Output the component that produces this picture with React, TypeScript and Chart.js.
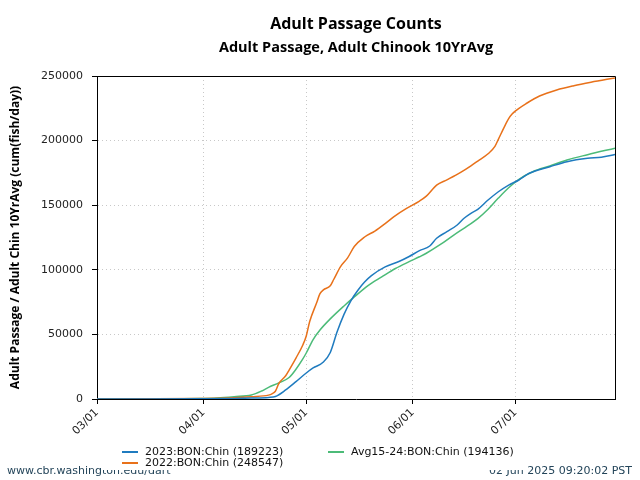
import React, { useEffect, useRef } from "react";
import { Chart, registerables } from "chart.js";

Chart.register(...registerables);

const TITLE = "Adult Passage Counts";
const SUBTITLE = "Adult Passage, Adult Chinook 10YrAvg";
const Y_TITLE = "Adult Passage / Adult Chin 10YrAvg (cum(fish/day))";
const FOOTER_LEFT = "www.cbr.washington.edu/dart";
const FOOTER_RIGHT = "02 Jun 2025 09:20:02 PST";

// x axis: days since 03/01
const X_TICK_DAYS = [0, 31, 61, 92, 122];
const X_TICK_LABELS = ["03/01", "04/01", "05/01", "06/01", "07/01"];
const X_MAX_DAY = 151;
const Y_MAX = 250000;
const Y_STEP = 50000;

const SERIES_LABELS = [
  "2023:BON:Chin (189223)",
  "2022:BON:Chin (248547)",
  "Avg15-24:BON:Chin (194136)",
];
const SERIES_COLORS = ["#1f7bbf", "#e8711a", "#4cbb78"];

const DAYS_2023 = [0, 15, 30, 40, 45, 50, 52, 55, 58, 61, 63, 66, 68, 70, 72, 74, 76, 78, 80, 84, 88, 91, 94, 97, 99, 102, 105, 107, 109, 111, 114, 117, 120, 123, 126, 132, 137, 143, 147, 151];
const VALUES_2023 = [0, 50, 200, 400, 700, 1200, 1900, 7000, 13400, 20100, 24000, 28600, 36000, 52000, 65500, 76000, 84000, 90500, 95500, 102200, 106400, 110300, 114800, 118400, 124400, 129500, 134700, 139900, 143700, 146800, 154000, 160400, 165600, 169500, 174700, 179800, 183700, 186300, 187100, 189223];

const DAYS_2022 = [0, 15, 30, 40, 45, 50, 51, 52, 53, 55, 56, 58, 60, 61, 62, 64, 65, 66, 68, 69, 71, 73, 75, 78, 81, 84, 87, 90, 94, 96, 99, 102, 106, 109, 111, 114, 116, 117, 119, 120, 121, 122, 123, 125, 129, 134, 139, 144, 151];
const VALUES_2022 = [0, 100, 400, 1000, 1800, 3000, 4000, 6000, 12000, 18000, 22400, 31700, 41800, 48800, 60000, 74300, 81500, 84500, 87700, 92500, 102500, 109000, 118000, 125400, 130000, 135800, 142000, 147200, 153200, 157000, 165500, 169600, 175400, 180500, 184200, 189800, 195500, 201000, 212000, 217000, 220500, 223000, 225000, 228500, 234500, 239200, 242500, 245200, 248547];

const DAYS_AVG = [0, 15, 30, 35, 40, 45, 48, 50, 53, 56, 58, 60, 61, 63, 65, 68, 72, 75, 79, 83, 87, 91, 94, 96, 100, 104, 108, 111, 114, 117, 120, 123, 127, 132, 137, 143, 151];
const VALUES_AVG = [0, 100, 400, 800, 1800, 3100, 6200, 9000, 12500, 16600, 23000, 31000, 35600, 46000, 53400, 62000, 72000, 79000, 87800, 94500, 101000, 106300, 110100, 112800, 119400, 126900, 134000, 139600, 146800, 155500, 163500, 170000, 175900, 180400, 185000, 189100, 194136];

const SERIES_DAYS = [DAYS_2023, DAYS_2022, DAYS_AVG];
const SERIES_VALUES = [VALUES_2023, VALUES_2022, VALUES_AVG];

const overlayPlugin = {
  id: "overlay",
  afterDraw(chart: any) {
    const ctx = chart.ctx as CanvasRenderingContext2D;
    const { left, right, top, bottom } = chart.chartArea;
    ctx.save();
    // frame (top and right sides)
    ctx.strokeStyle = "#000";
    ctx.lineWidth = 1;
    ctx.beginPath();
    ctx.moveTo(Math.round(left) - 0.5, Math.round(top) + 0.5);
    ctx.lineTo(Math.round(right) + 0.5, Math.round(top) + 0.5);
    ctx.lineTo(Math.round(right) + 0.5, Math.round(bottom) + 0.5);
    ctx.stroke();

    // titles
    const cx = (left + right) / 2;
    ctx.fillStyle = "#000";
    ctx.textAlign = "center";
    ctx.textBaseline = "alphabetic";
    ctx.font = "bold 16px 'Open Sans'";
    ctx.fillText(TITLE, cx, 29);
    ctx.font = "bold 14.5px 'Open Sans'";
    ctx.fillText(SUBTITLE, cx, 52);

    // footer
    ctx.font = "11px 'DejaVu Sans'";
    ctx.fillStyle = "#24455a";
    ctx.textAlign = "left";
    ctx.fillText(FOOTER_LEFT, 7, 474);
    ctx.textAlign = "right";
    ctx.fillText(FOOTER_RIGHT, 632, 474);

    // legend box
    ctx.fillStyle = "#fff";
    ctx.fillRect(101, 443, 426, 27);
    const slots = [
      { x: 122, y: 452 },
      { x: 122, y: 463 },
      { x: 328, y: 452 },
    ];
    ctx.font = "11px 'DejaVu Sans'";
    ctx.textAlign = "left";
    ctx.textBaseline = "middle";
    slots.forEach((s, i) => {
      ctx.strokeStyle = SERIES_COLORS[i];
      ctx.lineWidth = 2;
      ctx.beginPath();
      ctx.moveTo(s.x, s.y);
      ctx.lineTo(s.x + 16, s.y);
      ctx.stroke();
      ctx.fillStyle = "#111";
      ctx.fillText(SERIES_LABELS[i], s.x + 23, s.y + 0.5);
    });
    ctx.restore();
  },
};

export default function App() {
  const ref = useRef<HTMLCanvasElement | null>(null);

  useEffect(() => {
    if (!ref.current) return;
    const datasets = SERIES_LABELS.map((label, i) => ({
      label,
      data: SERIES_DAYS[i].map((d, j) => ({ x: d, y: SERIES_VALUES[i][j] })),
      borderColor: SERIES_COLORS[i],
      backgroundColor: SERIES_COLORS[i],
      borderWidth: 1.5,
      pointRadius: 0,
      cubicInterpolationMode: "monotone" as const,
      fill: false,
    }));
    const chart = new Chart(ref.current, {
      type: "line",
      data: { datasets },
      plugins: [overlayPlugin],
      options: {
        animation: false,
        responsive: false,
        maintainAspectRatio: false,
        layout: { padding: { top: 76, right: 25, bottom: 0, left: 0 } },
        plugins: {
          legend: { display: false },
          title: { display: false },
          tooltip: { enabled: false },
        },
        scales: {
          x: {
            type: "linear",
            min: 0,
            max: X_MAX_DAY,
            afterBuildTicks: (scale: any) => {
              scale.ticks = X_TICK_DAYS.map((v) => ({ value: v }));
            },
            afterFit: (scale: any) => {
              scale.height = 81;
            },
            ticks: {
              autoSkip: false,
              minRotation: 45,
              maxRotation: 45,
              padding: 2,
              color: "#222",
              font: { family: "'DejaVu Sans'", size: 11 },
              callback: (v: any) => {
                const k = X_TICK_DAYS.indexOf(Number(v));
                return k >= 0 ? X_TICK_LABELS[k] : "";
              },
            },
            grid: {
              color: "#c8c8c8",
              lineWidth: 1,
              tickLength: 5,
              tickColor: "#000",
              drawTicks: true,
            },
            border: { display: true, color: "#000", width: 1, dash: [1, 3] },
          },
          y: {
            type: "linear",
            min: 0,
            max: Y_MAX,
            afterFit: (scale: any) => {
              scale.width = 97;
            },
            ticks: {
              stepSize: Y_STEP,
              padding: 9,
              color: "#222",
              font: { family: "'DejaVu Sans'", size: 11 },
              callback: (v: any) => String(v),
            },
            grid: {
              color: "#c8c8c8",
              lineWidth: 1,
              tickLength: 5,
              tickColor: "#000",
              drawTicks: true,
            },
            border: { display: true, color: "#000", width: 1, dash: [1, 3] },
            title: {
              display: true,
              text: Y_TITLE,
              color: "#000",
              font: { family: "'Open Sans'", size: 12, weight: "bold" },
              padding: { top: 8, bottom: 0 },
            },
          },
        },
      },
    });
    return () => chart.destroy();
  }, []);

  return (
    <div style={{ position: "fixed", left: 0, top: 0, width: 640, height: 480, background: "#fff" }}>
      <canvas ref={ref} width={640} height={480} style={{ display: "block" }} />
    </div>
  );
}
